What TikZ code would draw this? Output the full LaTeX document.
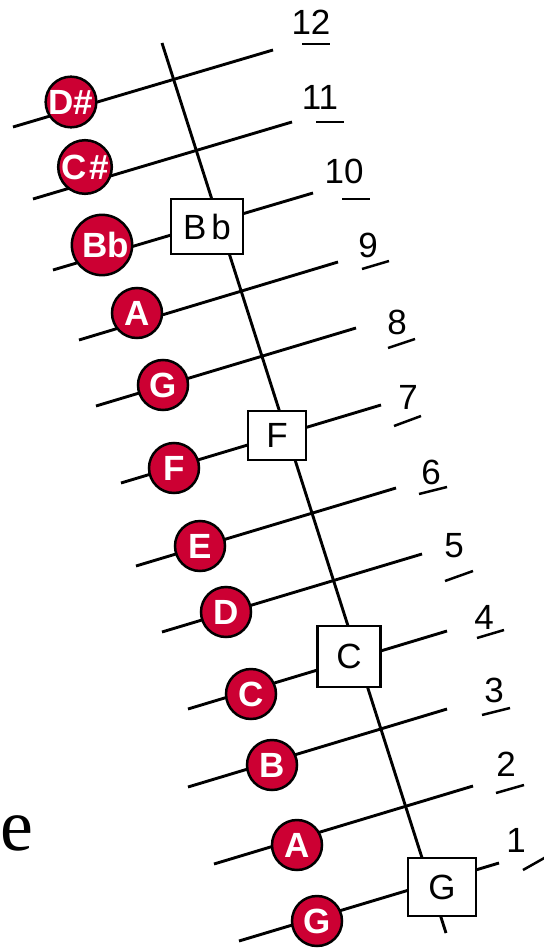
\documentclass[tikz,border=0pt]{standalone}
\usepackage{fontspec}
\setmainfont{Liberation Serif}
\setsansfont{Liberation Sans}
\definecolor{notered}{RGB}{204,0,51}

\begin{document}
\begin{tikzpicture}[x=1pt,y=-1pt,
  string/.style={line width=2.9pt},
  neckline/.style={line width=2.9pt},
  tickmark/.style={line width=2.5pt},
  note/.style={circle, fill=notered, draw=black, line width=2.5pt,
    minimum size=50pt, inner sep=0pt, text=white,
    font=\sffamily\bfseries\fontsize{35}{35}\selectfont},
  rootbox/.style={rectangle, fill=white, draw=black, line width=2.1pt,
    inner sep=0pt, font=\sffamily\fontsize{35}{35}\selectfont},
  fretno/.style={inner sep=0pt, font=\sffamily\fontsize{35}{35}\selectfont}]

\useasboundingbox (0,0) rectangle (543,949);

% string end points (left / right)
\coordinate (s12l) at (13,127);  \coordinate (s12r) at (273,50);
\coordinate (s11l) at (33,199);  \coordinate (s11r) at (292,122);
\coordinate (s10l) at (53,270);  \coordinate (s10r) at (313,193);
\coordinate (s9l)  at (79,340);  \coordinate (s9r)  at (338,262);
\coordinate (s8l)  at (96,406);  \coordinate (s8r)  at (356,328);
\coordinate (s7l)  at (121,483); \coordinate (s7r)  at (381,405);
\coordinate (s6l)  at (136,566); \coordinate (s6r)  at (396,488);
\coordinate (s5l)  at (162,632); \coordinate (s5r)  at (422,554);
\coordinate (s4l)  at (188,709); \coordinate (s4r)  at (447,631);
\coordinate (s3l)  at (188,787); \coordinate (s3r)  at (447,709);
\coordinate (s2l)  at (214,864); \coordinate (s2r)  at (473,786);
\coordinate (s1l)  at (239,941); \coordinate (s1r)  at (499,863);

\foreach \i in {1,...,12} \draw[string] (s\i l) -- (s\i r);

% the long slanted line
\coordinate (neckTop) at (162,43);
\coordinate (neckBot) at (446,933);
\draw[neckline] (neckTop) -- (neckBot);

% boxed notes on the slanted line
\node[rootbox, minimum width=72pt, minimum height=55pt] (bBb) at (207,226.5) {B\kern5pt b};
\node[rootbox, minimum width=58pt, minimum height=49pt] (bF)  at (277,435.5) {F};
\node[rootbox, minimum width=63pt, minimum height=61pt] (bC)  at (349,656.5) {C};
\node[rootbox, minimum width=68pt, minimum height=58pt] (bG)  at (442,887) {G};

% red note discs
\node[note] (cDs) at (71,102)  {D\#};
\node[note] (cCs) at (85,167)  {C\kern3pt\#};
\node[note] (cBb) at (102,245) {\hspace*{8pt}Bb};
\node[note] (cA9) at (137,313) {A};
\node[note] (cG8) at (163,385) {G};
\node[note] (cF7) at (174,468) {F};
\node[note] (cE6) at (200,546) {E};
\node[note] (cD5) at (226,612) {D};
\node[note] (cC4) at (251,694) {C};
\node[note] (cB3) at (272,765) {B};
\node[note] (cA2) at (297,845) {A};
\node[note] (cG1) at (317,921) {G};

% fret numbers
\node[fretno] (n12) at (311,22)  {12};
\node[fretno] (n11) at (320,97)  {11};
\node[fretno] (n10) at (344,171) {10};
\node[fretno] (n9)  at (368,245) {9};
\node[fretno] (n8)  at (397,322) {8};
\node[fretno] (n7)  at (408,397) {7};
\node[fretno] (n6)  at (431,472) {6};
\node[fretno] (n5)  at (454,546) {5};
\node[fretno] (n4)  at (484,617) {4};
\node[fretno] (n3)  at (494,690) {3};
\node[fretno] (n2)  at (506,764) {2};
\node[fretno] (n1)  at (516,840) {1};

% short strokes under the numbers
\coordinate (t12a) at (302,44);  \coordinate (t12b) at (330,44);
\coordinate (t11a) at (316,122); \coordinate (t11b) at (344,122);
\coordinate (t10a) at (342,199); \coordinate (t10b) at (370,199);
\coordinate (t9a)  at (362,269); \coordinate (t9b)  at (389,261);
\coordinate (t8a)  at (388,348); \coordinate (t8b)  at (415,339);
\coordinate (t7a)  at (394,426); \coordinate (t7b)  at (421,416);
\coordinate (t6a)  at (419,494); \coordinate (t6b)  at (447,487);
\coordinate (t5a)  at (445,581); \coordinate (t5b)  at (473,571);
\coordinate (t4a)  at (477,638); \coordinate (t4b)  at (504,630);
\coordinate (t3a)  at (482,715); \coordinate (t3b)  at (510,708);
\coordinate (t2a)  at (496,793); \coordinate (t2b)  at (524,785);
\coordinate (t1a)  at (523,870); \coordinate (t1b)  at (546,857);
\foreach \i in {1,...,12} \draw[tickmark] (t\i a) -- (t\i b);

% stray letter at the left margin
\node[inner sep=0pt, font=\fontsize{74}{74}\selectfont] (lettere) at (17,833) {e};

\end{tikzpicture}
\end{document}
